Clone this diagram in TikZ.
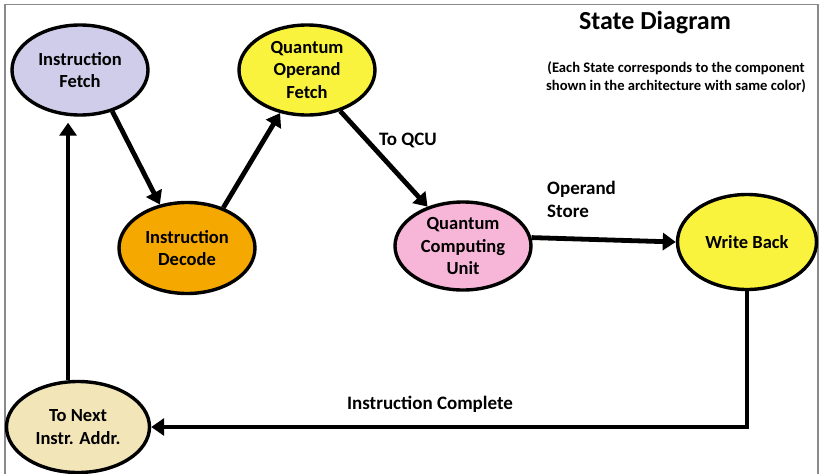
\documentclass[tikz,border=0pt]{standalone}
\usepackage{fontspec}
\setmainfont{Carlito}
\usetikzlibrary{shapes.geometric,arrows.meta}
\definecolor{lavender}{HTML}{CFCDEA}
\definecolor{decodeorange}{HTML}{F4A800}
\definecolor{stateyellow}{HTML}{FAF33E}
\definecolor{qcupink}{HTML}{F7B6D8}
\definecolor{nextbeige}{HTML}{F2E5B8}
\definecolor{framegray}{HTML}{8A8A8A}
\tikzset{
  state/.style={ellipse, draw=black, line width=3.4pt, inner sep=0pt,
    align=center, font=\fontsize{18.5}{22.5}\selectfont\bfseries},
  flow/.style={line width=4.8pt, -{Triangle[length=13pt,width=17pt]}},
  lbl/.style={font=\fontsize{19}{22.5}\selectfont\bfseries, align=left, inner sep=0pt}
}
\begin{document}
\begin{tikzpicture}[x=1pt,y=-1pt]
\useasboundingbox (0,0) rectangle (820,474);
\fill[white] (0,0) rectangle (820,474);
% outer frame
\draw[framegray, line width=1.2pt] (5,474) -- (5,4.5) -- (818,4.5) -- (818,474);

% states
\node[state, fill=lavender, minimum width=136pt, minimum height=90pt] (IF) at (80,70) {Instruction\\Fetch};
\node[state, fill=decodeorange, minimum width=136pt, minimum height=91pt] (ID) at (187,248) {Instruction\\Decode};
\node[state, fill=stateyellow, minimum width=136pt, minimum height=90pt] (QOF) at (307,70) {Quantum\\Operand\\Fetch};
\node[state, fill=qcupink, minimum width=136pt, minimum height=88pt] (QCU) at (463,246) {Quantum\\Computing\\Unit};
\node[state, fill=stateyellow, minimum width=139pt, minimum height=95pt] (WB) at (747,242) {Write Back};
\node[state, fill=nextbeige, minimum width=143pt, minimum height=91pt] (TN) at (78,427) {To Next\\Instr. Addr.};

% transitions
\draw[flow] (IF.-52) -- (ID.122);
\draw[flow] (ID.48) -- (QOF.238);
\draw[flow] (QOF.-51) -- (QCU.132);
\draw[flow] (QCU.7) -- (WB.west);
\draw[flow] (WB.south) |- (TN.east);
\draw[flow, shorten >=6pt] (TN.102) -- (TN.102 |- IF.south);

% labels
\node[font=\fontsize{26}{30}\selectfont\bfseries, inner sep=0pt] (title) at (655,23) {State Diagram};
\node[font=\fontsize{14.6}{18}\selectfont\bfseries, align=center, inner sep=0pt] (note) at (676,77)
  {(Each State corresponds to the component\\shown in the architecture with same color)};
\node[lbl] (toqcu) at (408,140) {To QCU};
\node[lbl, anchor=north west] (opstore) at (547,181) {Operand\\Store};
\node[lbl] (done) at (430,404) {Instruction Complete};
\end{tikzpicture}
\end{document}
